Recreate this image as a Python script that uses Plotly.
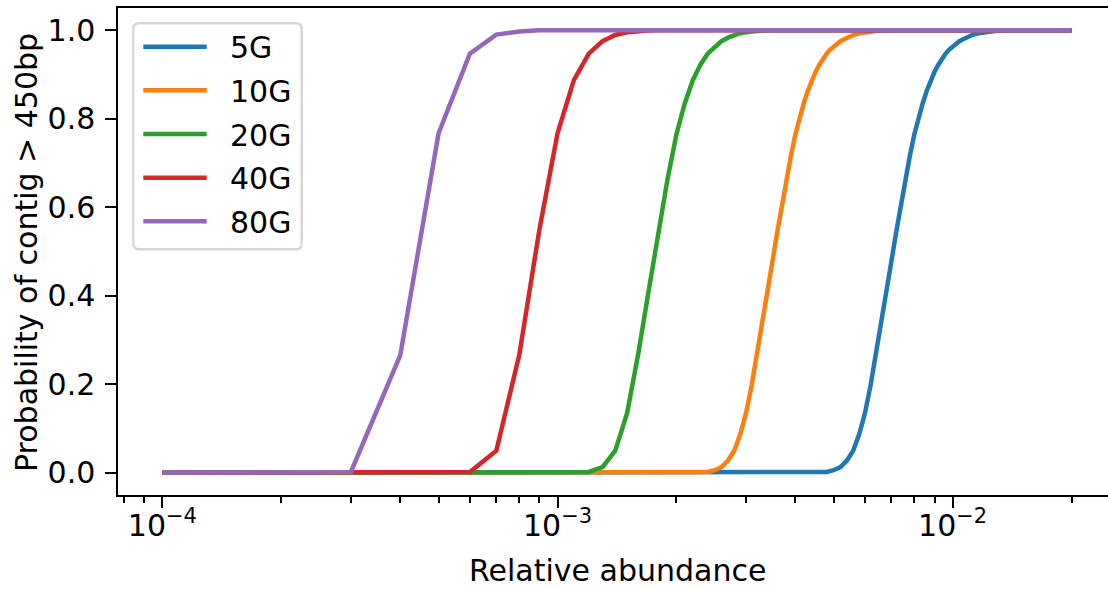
import plotly.graph_objects as go

# ---------------- data ----------------
series_names = ["5G", "10G", "20G", "40G", "80G"]
series_colors = ["#1f77b4", "#ff7f0e", "#2ca02c", "#d62728", "#9467bd"]

x_5g = [1e-4, 4.0e-3, 4.2e-3, 4.4e-3, 4.6e-3, 4.8e-3, 5.0e-3, 5.2e-3, 5.4e-3, 5.6e-3,
        5.8e-3, 6.0e-3, 6.2e-3, 6.4e-3, 6.6e-3, 6.8e-3, 7.0e-3, 7.2e-3, 7.4e-3, 7.6e-3,
        7.8e-3, 8.0e-3, 8.2e-3, 8.4e-3, 8.6e-3, 8.8e-3, 9.0e-3, 9.2e-3, 9.4e-3, 9.6e-3,
        9.8e-3, 1.0e-2, 1.02e-2, 1.04e-2, 1.06e-2, 1.08e-2, 1.10e-2, 1.12e-2, 1.16e-2,
        1.20e-2, 1.24e-2, 1.28e-2, 1.36e-2, 1.44e-2, 2.0e-2]
y_5g = [0.0, 0.0, 0.0, 0.0001, 0.0006, 0.002, 0.006, 0.013, 0.028, 0.050,
        0.087, 0.135, 0.198, 0.268, 0.340, 0.410, 0.478, 0.545, 0.607, 0.665,
        0.718, 0.765, 0.802, 0.835, 0.863, 0.887, 0.906, 0.922, 0.936, 0.947,
        0.956, 0.963, 0.970, 0.975, 0.979, 0.983, 0.986, 0.989, 0.993,
        0.995, 0.997, 0.998, 0.999, 1.0, 1.0]

x_10g = [1e-4, 2.0e-3, 2.1e-3, 2.2e-3, 2.3e-3, 2.4e-3, 2.5e-3, 2.6e-3, 2.7e-3, 2.8e-3,
         2.9e-3, 3.0e-3, 3.1e-3, 3.2e-3, 3.3e-3, 3.4e-3, 3.5e-3, 3.6e-3, 3.7e-3, 3.8e-3,
         3.9e-3, 4.0e-3, 4.1e-3, 4.2e-3, 4.3e-3, 4.4e-3, 4.5e-3, 4.6e-3, 4.7e-3, 4.8e-3,
         4.9e-3, 5.0e-3, 5.1e-3, 5.2e-3, 5.3e-3, 5.4e-3, 5.5e-3, 5.6e-3, 5.8e-3,
         6.0e-3, 6.2e-3, 6.4e-3, 6.8e-3, 7.2e-3, 2.0e-2]
y_10g = [0.0, 0.0, 0.0, 0.0001, 0.0006, 0.002, 0.006, 0.013, 0.028, 0.050,
         0.087, 0.135, 0.198, 0.268, 0.340, 0.410, 0.478, 0.545, 0.607, 0.665,
         0.718, 0.765, 0.802, 0.835, 0.863, 0.887, 0.906, 0.922, 0.936, 0.947,
         0.956, 0.963, 0.970, 0.975, 0.979, 0.983, 0.986, 0.989, 0.993,
         0.995, 0.997, 0.998, 0.999, 1.0, 1.0]

x_20g = [1e-4, 1.0e-3, 1.1e-3, 1.2e-3, 1.3e-3, 1.4e-3, 1.5e-3, 1.6e-3, 1.7e-3, 1.8e-3,
         1.9e-3, 2.0e-3, 2.1e-3, 2.2e-3, 2.3e-3, 2.4e-3, 2.5e-3, 2.6e-3, 2.7e-3, 2.8e-3,
         2.9e-3, 3.0e-3, 3.1e-3, 3.2e-3, 3.4e-3, 3.6e-3, 2.0e-2]
y_20g = [0.0, 0.0, 0.0001, 0.002, 0.013, 0.050, 0.135, 0.268, 0.410, 0.545,
         0.665, 0.765, 0.835, 0.887, 0.922, 0.947, 0.963, 0.975, 0.983, 0.989,
         0.993, 0.995, 0.997, 0.998, 0.999, 1.0, 1.0]

x_40g = [1e-4, 5e-4, 6e-4, 7e-4, 8e-4, 9e-4, 1.0e-3, 1.1e-3, 1.2e-3, 1.3e-3,
         1.4e-3, 1.5e-3, 1.6e-3, 1.7e-3, 1.8e-3, 2.0e-2]
y_40g = [0.0, 0.0, 0.002, 0.050, 0.266, 0.550, 0.767, 0.887, 0.947, 0.975,
         0.989, 0.995, 0.998, 0.999, 1.0, 1.0]

x_80g = [1e-4, 2e-4, 3e-4, 4e-4, 5e-4, 6e-4, 7e-4, 8e-4, 9e-4, 2.0e-2]
y_80g = [0.0, 0.0, 0.002, 0.266, 0.767, 0.947, 0.990, 0.997, 1.0, 1.0]

series_x = [x_5g, x_10g, x_20g, x_40g, x_80g]
series_y = [y_5g, y_10g, y_20g, y_40g, y_80g]

x_major_ticks = [1e-4, 1e-3, 1e-2]
x_major_text = ["10<sup>\u22124</sup>", "10<sup>\u22123</sup>", "10<sup>\u22122</sup>"]
x_minor_ticks = [k * 10.0 ** e for e in (-5, -4, -3, -2) for k in range(2, 10)]
y_ticks = [0.0, 0.2, 0.4, 0.6, 0.8, 1.0]
y_text = ["0.0", "0.2", "0.4", "0.6", "0.8", "1.0"]

x_title = "Relative abundance"
y_title = "Probability of contig > 450bp"

# ---------------- figure ----------------
W, H = 1108, 589
L, R, T, B = 118, 0, 8, 94
PW, PH = W - L - R, H - T - B
FONT = "DejaVu Sans"
FS = 30
LW = 4.5
SPINE = 2.4


def px_x(p):
    return (p - L) / PW


def px_y(p):
    return (H - B - p) / PH


fig = go.Figure()
for name, color, xs, ys in zip(series_names, series_colors, series_x, series_y):
    fig.add_trace(go.Scatter(x=xs, y=ys, mode="lines", name=name,
                             line=dict(color=color, width=LW),
                             showlegend=False, hoverinfo="skip"))

fig.update_layout(
    width=W, height=H,
    margin=dict(l=L, r=R, t=T, b=B, pad=0),
    paper_bgcolor="white", plot_bgcolor="white",
    font=dict(family=FONT, size=FS, color="black"),
    showlegend=False,
    xaxis=dict(
        type="log", range=[-4.1124, -1.6068],
        showline=True, linecolor="black", linewidth=SPINE, mirror=True,
        showgrid=False, zeroline=False,
        ticks="outside", ticklen=10.5, tickwidth=SPINE, tickcolor="black",
        tickvals=x_major_ticks, ticktext=x_major_text,
        tickfont=dict(family=FONT, size=FS, color="black"),
        ticklabelstandoff=-8,
        minor=dict(tickvals=x_minor_ticks, ticks="outside", ticklen=6,
                   tickwidth=1.8, tickcolor="black", showgrid=False),
    ),
    yaxis=dict(
        range=[-0.05, 1.05],
        showline=True, linecolor="black", linewidth=SPINE, mirror=False,
        showgrid=False, zeroline=False,
        ticks="outside", ticklen=10.5, tickwidth=SPINE, tickcolor="black",
        tickvals=y_ticks, ticktext=y_text,
        tickfont=dict(family=FONT, size=FS, color="black"),
        ticklabelstandoff=4,
    ),
)

annotations = [
    dict(text=x_title, xref="paper", yref="paper", x=px_x(617), y=px_y(570),
         xanchor="center", yanchor="middle", showarrow=False,
         font=dict(family=FONT, size=FS, color="black")),
    dict(text=y_title, xref="paper", yref="paper", x=px_x(26), y=px_y(253),
         xanchor="center", yanchor="middle", showarrow=False, textangle=-90,
         font=dict(family=FONT, size=FS, color="black")),
]

# manual legend (matplotlib style)
bx0, by0, bx1, by1, rad = 133.3, 23.3, 301.7, 249.3, 5.5
path = (f"M {px_x(bx0 + rad)},{px_y(by0)} L {px_x(bx1 - rad)},{px_y(by0)} "
        f"Q {px_x(bx1)},{px_y(by0)} {px_x(bx1)},{px_y(by0 + rad)} "
        f"L {px_x(bx1)},{px_y(by1 - rad)} "
        f"Q {px_x(bx1)},{px_y(by1)} {px_x(bx1 - rad)},{px_y(by1)} "
        f"L {px_x(bx0 + rad)},{px_y(by1)} "
        f"Q {px_x(bx0)},{px_y(by1)} {px_x(bx0)},{px_y(by1 - rad)} "
        f"L {px_x(bx0)},{px_y(by0 + rad)} "
        f"Q {px_x(bx0)},{px_y(by0)} {px_x(bx0 + rad)},{px_y(by0)} Z")
shapes = [dict(type="path", path=path, xref="paper", yref="paper",
               fillcolor="rgba(255,255,255,0.8)",
               line=dict(color="rgba(204,204,204,0.8)", width=SPINE), layer="above")]
rows = [46.7, 90.3, 134.0, 177.7, 221.3]
for name, color, ry in zip(series_names, series_colors, rows):
    shapes.append(dict(type="line", xref="paper", yref="paper",
                       x0=px_x(143.3), x1=px_x(206.7), y0=px_y(ry), y1=px_y(ry),
                       line=dict(color=color, width=LW), layer="above"))
    annotations.append(dict(text=name, xref="paper", yref="paper",
                            x=px_x(227.5), y=px_y(ry + 1), xanchor="left", yanchor="middle",
                            showarrow=False,
                            font=dict(family=FONT, size=FS, color="black")))

fig.update_layout(shapes=shapes, annotations=annotations)
fig.write_html("out.html",
               config={"displayModeBar": False},
               post_script="document.body.style.margin='0px';document.body.style.overflow='hidden';")
